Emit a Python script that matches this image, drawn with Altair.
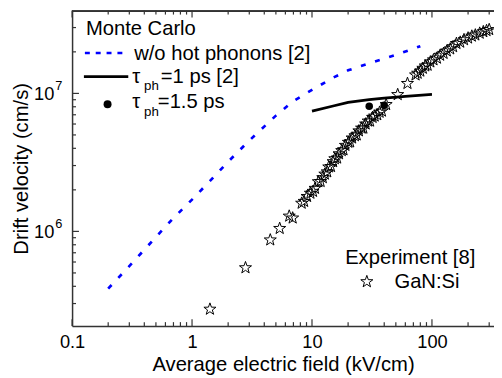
import altair as alt
import pandas as pd

# ---------------- data ----------------
# Monte Carlo, w/o hot phonons [2]
nohp_field = [0.2, 0.3, 0.5, 0.7, 1.0, 1.5, 2.0, 3.0, 5.0, 7.0, 10, 15, 20, 30, 50, 80]
nohp_vel = [3.85e5, 5.6e5, 9.1e5, 1.25e6, 1.7e6, 2.45e6, 3.2e6, 4.55e6, 6.9e6, 8.8e6,
            1.06e7, 1.3e7, 1.47e7, 1.65e7, 1.9e7, 2.2e7]

# Monte Carlo, tau_ph = 1 ps [2]
tau1_field = [10, 15, 20, 30, 40, 60, 100]
tau1_vel = [7.44e6, 8.1e6, 8.6e6, 9.0e6, 9.25e6, 9.5e6, 9.84e6]

# Monte Carlo, tau_ph = 1.5 ps
tau15_field = [30, 40]
tau15_vel = [8.07e6, 8.2e6]

# Experiment [8], GaN:Si
exp_field = [1.41, 2.79, 4.49, 5.38, 6.46, 6.9, 8.2, 8.6, 9.1, 9.7, 10.2, 10.6, 11.3, 11.8,
             12.3, 12.8, 13.4, 13.8, 14.4, 15.0, 15.5, 16.2, 16.8, 17.7, 18.3, 19.0, 20.1,
             20.8, 21.6, 22.8, 23.6, 24.6, 25.9, 26.8, 28.0, 29.4, 30.5, 32.0, 33.3, 35.0,
             36.6, 38.3, 41.5, 51.8, 62.5, 73, 76, 80, 84, 88, 92, 97, 103, 110, 117, 125,
             133, 142, 150, 160, 172, 185, 200, 215, 230, 250, 268, 285, 300]
exp_vel = [2.73e5, 5.45e5, 8.67e5, 1.05e6, 1.29e6, 1.25e6, 1.6e6, 1.65e6, 1.79e6, 1.89e6,
           1.95e6, 2.05e6, 2.29e6, 2.3e6, 2.45e6, 2.6e6, 2.7e6, 2.93e6, 2.95e6, 3.2e6,
           3.36e6, 3.4e6, 3.65e6, 3.85e6, 3.9e6, 4.2e6, 4.42e6, 4.45e6, 4.75e6, 4.93e6,
           5.0e6, 5.35e6, 5.6e6, 5.6e6, 6.0e6, 6.3e6, 6.3e6, 6.7e6, 6.85e6, 7.0e6, 7.3e6,
           7.44e6, 8.3e6, 9.8e6, 1.18e7, 1.36e7, 1.4e7, 1.45e7, 1.52e7, 1.58e7, 1.6e7,
           1.69e7, 1.75e7, 1.8e7, 1.89e7, 1.95e7, 2.03e7, 2.1e7, 2.18e7, 2.3e7, 2.35e7,
           2.45e7, 2.52e7, 2.6e7, 2.65e7, 2.73e7, 2.8e7, 2.85e7, 2.9e7]

# axis ticks
x_major = [0.1, 1, 10, 100]
x_minor = [0.2, 0.3, 0.4, 0.5, 0.6, 0.7, 0.8, 0.9, 2, 3, 4, 5, 6, 7, 8, 9,
           20, 30, 40, 50, 60, 70, 80, 90, 200, 300]
y_major = [1e6, 1e7]
y_major_exp = ["6", "7"]
y_minor = [3e5, 4e5, 5e5, 6e5, 7e5, 8e5, 9e5, 2e6, 3e6, 4e6, 5e6, 6e6, 7e6, 8e6, 9e6,
           2e7, 3e7]

x_domain = [0.1, 329]
y_domain = [2.06e5, 3.98e7]

# ---------------- chart ----------------
W, H = 428, 320
FONT = "Liberation Sans"
AXC = "#333333"
LF = 20.5
STAR = ("M0,-1 L0.235,-0.324 L0.951,-0.309 L0.380,0.124 L0.588,0.809 L0,0.4 "
        "L-0.588,0.809 L-0.380,0.124 L-0.951,-0.309 L-0.235,-0.324 Z")

xs = alt.Scale(type="log", domain=x_domain, nice=False)
ys = alt.Scale(type="log", domain=y_domain, nice=False)

x_axis = alt.Axis(values=x_major, format="~g", ticks=False, grid=False,
                  domainColor=AXC, domainWidth=1.5, labelFont=FONT, labelFontSize=18.5,
                  labelColor="black", labelPadding=7, labelFlush=False, labelOverlap=False,
                  title="Average electric field (kV/cm)", titleFont=FONT, titleFontSize=LF,
                  titleFontWeight="normal", titleColor="black", titlePadding=4)
y_axis = alt.Axis(values=y_major, labels=False, ticks=False, grid=False,
                  domainColor=AXC, domainWidth=1.5,
                  title="Drift velocity (cm/s)", titleFont=FONT, titleFontSize=LF,
                  titleFontWeight="normal", titleColor="black",
                  titleX=-51, titleY=H / 2, titleAngle=270, titleAlign="center",
                  titleBaseline="middle")


def X():
    return alt.X("x:Q", scale=xs, axis=x_axis)


def Y():
    return alt.Y("y:Q", scale=ys, axis=y_axis)


nohp_df = pd.DataFrame({"x": nohp_field, "y": nohp_vel})
tau1_df = pd.DataFrame({"x": tau1_field, "y": tau1_vel})
tau15_df = pd.DataFrame({"x": tau15_field, "y": tau15_vel})
exp_df = pd.DataFrame({"x": exp_field, "y": exp_vel})

nohp = alt.Chart(nohp_df).mark_line(color="#0000ff", strokeWidth=2.7,
                                    strokeDash=[5, 10]).encode(x=X(), y=Y())
tau1 = alt.Chart(tau1_df).mark_line(color="black", strokeWidth=2.8).encode(x=X(), y=Y())
tau15 = alt.Chart(tau15_df).mark_circle(color="black", size=58, opacity=1).encode(x=X(), y=Y())
exp = alt.Chart(exp_df).mark_point(shape=STAR, filled=False, stroke="black", strokeWidth=1,
                                   size=165, opacity=1).encode(x=X(), y=Y())

# inward ticks
xmaj_df = pd.DataFrame({"x": x_major})
xmin_df = pd.DataFrame({"x": x_minor})
ymaj_df = pd.DataFrame({"y": y_major, "e": y_major_exp})
ymin_df = pd.DataFrame({"y": y_minor})
tick_layers = []
for df, ln in [(xmaj_df, 7), (xmin_df, 4)]:
    tick_layers.append(alt.Chart(df).mark_rule(color=AXC, strokeWidth=1.2).encode(
        x=X(), y=alt.value(H), y2=alt.value(H - ln)))
    tick_layers.append(alt.Chart(df).mark_rule(color=AXC, strokeWidth=1.2).encode(
        x=X(), y=alt.value(0), y2=alt.value(ln)))
for df, ln in [(ymaj_df, 7), (ymin_df, 4)]:
    tick_layers.append(alt.Chart(df).mark_rule(color=AXC, strokeWidth=1.2).encode(
        y=Y(), x=alt.value(0), x2=alt.value(ln)))

# y tick labels as 10^n with a real superscript
ylab_base = alt.Chart(ymaj_df).mark_text(text="10", font=FONT, fontSize=18.5, align="right",
                                         baseline="middle", dy=1, color="black").encode(
    y=Y(), x=alt.value(-18))
ylab_exp = alt.Chart(ymaj_df).mark_text(font=FONT, fontSize=13, align="left",
                                        baseline="middle", dy=-7, color="black").encode(
    y=Y(), x=alt.value(-17), text="e:N")

top_border = alt.Chart(xmaj_df).mark_rule(color=AXC, strokeWidth=1.5).encode(
    x=alt.value(0), x2=alt.value(W), y=alt.value(0.75))

# legend (drawn by hand)
one = pd.DataFrame({"k": [0]})


def txt(s, px, py, size=LF):
    return alt.Chart(one).mark_text(text=s, font=FONT, fontSize=size, align="left",
                                    baseline="alphabetic", color="black").encode(
        x=alt.value(px), y=alt.value(py))


legend = [
    txt("Monte Carlo", 14, 25),
    alt.Chart(one).mark_rule(color="#0000ff", strokeWidth=2.7, strokeDash=[5, 6]).encode(
        x=alt.value(13), x2=alt.value(56), y=alt.value(43)),
    txt("w/o hot phonons [2]", 63, 50),
    alt.Chart(one).mark_rule(color="black", strokeWidth=2.8).encode(
        x=alt.value(12), x2=alt.value(57), y=alt.value(67)),
    txt("τ", 61, 73),
    txt("ph", 73, 81, 13.5),
    txt("=1 ps [2]", 90, 73),
    alt.Chart(one).mark_circle(color="black", size=65, opacity=1).encode(
        x=alt.value(36), y=alt.value(95)),
    txt("τ", 61, 99),
    txt("ph", 73, 107, 13.5),
    txt("=1.5 ps", 87, 99),
    txt("Experiment [8]", 277, 257),
    alt.Chart(one).mark_point(shape=STAR, filled=False, stroke="black", strokeWidth=1,
                              size=165, opacity=1).encode(x=alt.value(299), y=alt.value(275)),
    txt("GaN:Si", 327, 281),
]

chart = alt.layer(nohp, tau1, exp, tau15, *tick_layers, ylab_base, ylab_exp, top_border,
                  *legend).properties(
    width=W, height=H,
    padding={"left": 65, "top": 0, "right": 0, "bottom": 49},
    autosize=alt.AutoSizeParams(type="none"),
).configure_view(stroke=None)

chart.save("out.html", embed_options={"renderer": "svg", "actions": False})
